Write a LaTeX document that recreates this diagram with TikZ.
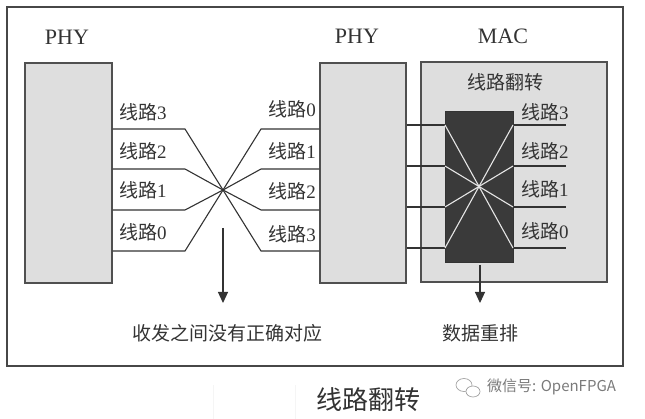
\documentclass[tikz,border=0pt]{standalone}
\usepackage{fontspec}
\setmainfont{Liberation Serif}
\newfontfamily\cjk{Noto Sans CJK SC}
\usetikzlibrary{arrows.meta}
\definecolor{ink}{HTML}{333333}
\definecolor{boxfill}{HTML}{DEDEDE}
\definecolor{boxline}{HTML}{505050}
\definecolor{darkfill}{HTML}{3A3A3A}
\definecolor{wmark}{HTML}{7A7A7A}
\newcommand{\xlane}[1]{{\cjk 线路}#1}
\begin{document}
\begin{tikzpicture}[x=1pt,y=-1pt,
  every node/.style={text=ink, inner sep=0pt},
  phybox/.style={draw=boxline, line width=1.3pt, fill=boxfill, minimum width=#1, minimum height=220pt},
  wire/.style={draw=ink, line width=1.1pt},
  whitewire/.style={draw=white!90!black, line width=1.1pt},
  lbl/.style={font=\fontsize{19}{21}\selectfont},
  cjklbl/.style={font=\fontsize{19}{21}\selectfont\cjk},
  ttl/.style={font=\fontsize{22}{24}\selectfont},
  dnarrow/.style={draw=ink, line width=1.1pt, -{Triangle[length=11pt,width=10pt]}}
]
\useasboundingbox (0,0) rectangle (645,419);
% outer frame
\draw[draw=ink!90, line width=2pt] (7,7) rectangle (623,366);

% boxes
\node[phybox=87pt] (lphy) at (68.5,173) {};
\node[phybox=86pt] (rphy) at (363,173) {};
\node[phybox=186pt] (mac) at (514,172) {};
\node[draw=ink, line width=0.8pt, fill=darkfill, minimum width=68pt, minimum height=151pt] (dark) at (479,186.5) {};

% titles
\node[ttl] (t1) at (67,37) {PHY};
\node[ttl] (t2) at (357,36) {PHY};
\node[ttl] (t3) at (503,36) {MAC};
\node[cjklbl] (flip) at (505,82) {线路翻转};

% crossing wires between the PHYs
\coordinate (X) at (223,190);
\coordinate (a3) at (185,129);
\coordinate (a2) at (185,169);
\coordinate (a1) at (185,210);
\coordinate (a0) at (185,251);
\coordinate (b0) at (261,129);
\coordinate (b1) at (261,169);
\coordinate (b2) at (261,210);
\coordinate (b3) at (261,251);
\draw[wire] (lphy.east |- a3) -- (a3) -- (X) -- (b3) -- (rphy.west |- b3);
\draw[wire] (lphy.east |- a2) -- (a2) -- (X) -- (b2) -- (rphy.west |- b2);
\draw[wire] (lphy.east |- a1) -- (a1) -- (X) -- (b1) -- (rphy.west |- b1);
\draw[wire] (lphy.east |- a0) -- (a0) -- (X) -- (b0) -- (rphy.west |- b0);

% left labels
\node[lbl, anchor=west] (l3) at (119,112) {\xlane{3}};
\node[lbl, anchor=west] (l2) at (119,151) {\xlane{2}};
\node[lbl, anchor=west] (l1) at (119,190) {\xlane{1}};
\node[lbl, anchor=west] (l0) at (119,232) {\xlane{0}};
% right labels of middle PHY
\node[lbl, anchor=east] (r0) at (316,109) {\xlane{0}};
\node[lbl, anchor=east] (r1) at (316,151) {\xlane{1}};
\node[lbl, anchor=east] (r2) at (316,191) {\xlane{2}};
\node[lbl, anchor=east] (r3) at (316,234) {\xlane{3}};

% MAC wires
\coordinate (c0) at (445,125);
\coordinate (c1) at (445,166);
\coordinate (c2) at (445,207);
\coordinate (c3) at (445,248);
\coordinate (d0) at (513,125);
\coordinate (d1) at (513,166);
\coordinate (d2) at (513,207);
\coordinate (d3) at (513,248);
\coordinate (e0) at (566,125);
\coordinate (e1) at (566,166);
\coordinate (e2) at (566,207);
\coordinate (e3) at (566,248);
\foreach \i in {0,1,2,3}{
  \draw[wire] (rphy.east |- c\i) -- (c\i);
  \draw[wire] (d\i) -- (e\i);
}
\draw[whitewire] (c0) -- (d3);
\draw[whitewire] (c1) -- (d2);
\draw[whitewire] (c2) -- (d1);
\draw[whitewire] (c3) -- (d0);

% MAC labels
\node[lbl, anchor=west] (m3) at (521,112) {\xlane{3}};
\node[lbl, anchor=west] (m2) at (521,151) {\xlane{2}};
\node[lbl, anchor=west] (m1) at (521,189) {\xlane{1}};
\node[lbl, anchor=west] (m0) at (521,231) {\xlane{0}};

% arrows and bottom labels
\coordinate (s1) at (223,228);
\node[cjklbl] (n1) at (227,333) {收发之间没有正确对应};
\node[cjklbl] (n2) at (480,333) {数据重排};
\coordinate (s2) at (480,265);
\draw[dnarrow] (s1) -- (223,303);
\draw[dnarrow] (s2) -- (480,303);

% caption
\node[font=\fontsize{26}{28}\selectfont\cjk] (cap) at (368,400) {线路翻转};
\draw[draw=black!4, line width=0.6pt] (213,385) -- (213,419) (295,385) -- (295,419);

% watermark
\draw[draw=wmark!70, line width=0.7pt] (464,385) ellipse (8pt and 6.5pt);
\fill[white] (473,391.5) ellipse (7pt and 5.5pt);
\draw[draw=wmark!70, line width=0.7pt] (473,391.5) ellipse (7pt and 5.5pt);
\node[text=wmark, font=\fontsize{15}{17}\selectfont\cjk, anchor=west] (wm) at (487,387) {微信号: OpenFPGA};
\end{tikzpicture}
\end{document}
